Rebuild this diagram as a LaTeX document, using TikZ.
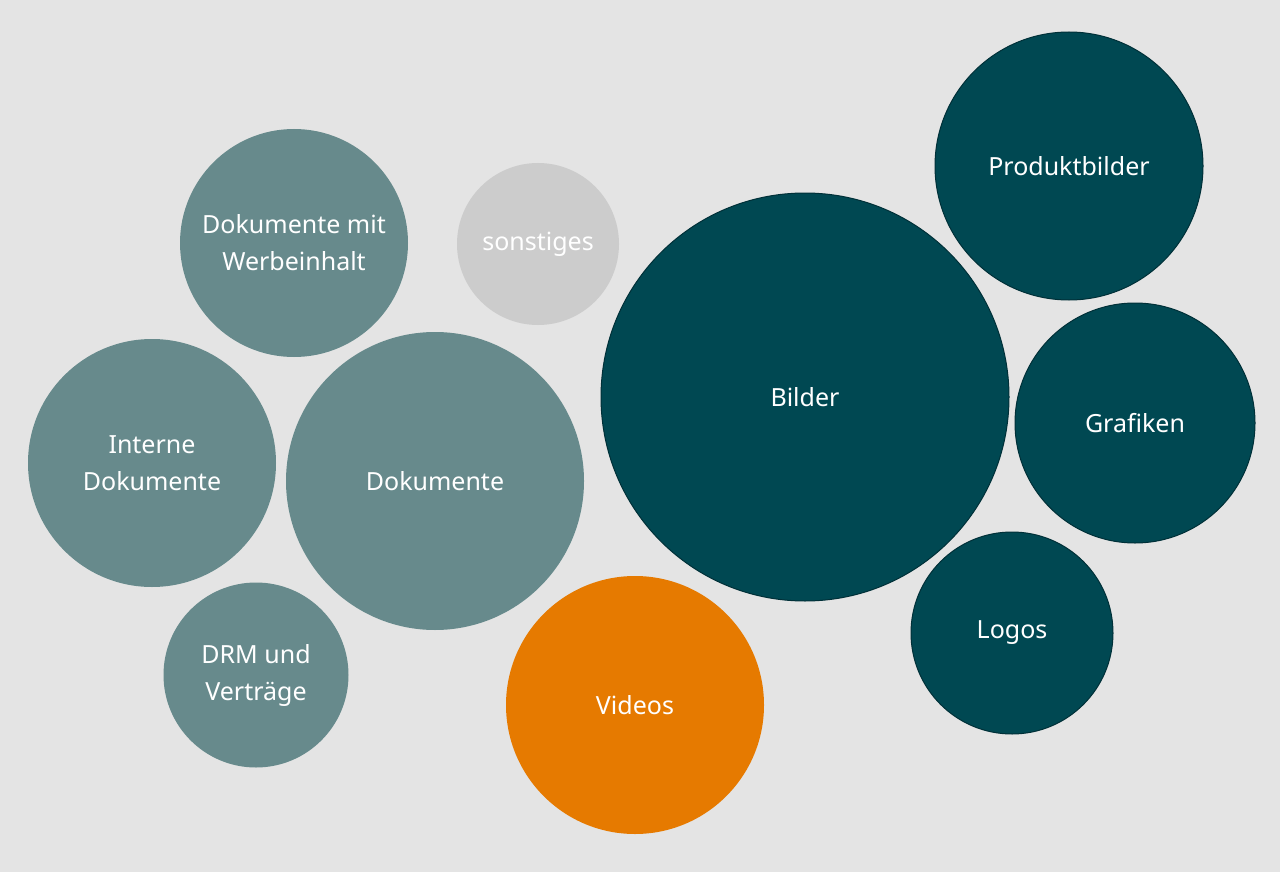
\documentclass[tikz,border=0pt]{standalone}
\usepackage{fontspec}
\setmainfont{Noto Sans}
\definecolor{bg}{HTML}{E4E4E4}
\definecolor{greyteal}{HTML}{678A8C}
\definecolor{darkteal}{HTML}{004852}
\definecolor{darkedge}{HTML}{003038}
\definecolor{lightgrey}{HTML}{CCCCCC}
\definecolor{vorange}{HTML}{E67A00}
\begin{document}
\begin{tikzpicture}[x=1pt,y=-1pt,
  bubble/.style={circle,inner sep=0pt,text=white,align=center,
    font=\fontsize{25}{37}\selectfont},
  doc/.style={bubble,fill=greyteal},
  img/.style={bubble,fill=darkteal,draw=darkedge,line width=1pt},
  misc/.style={bubble,fill=lightgrey},
  vid/.style={bubble,fill=vorange}]
\fill[bg] (0,0) rectangle (1280,872);
\useasboundingbox (0,0) rectangle (1280,872);
\node[doc,minimum size=228pt] (werbung) at (294,243) {Dokumente mit\\Werbeinhalt};
\node[misc,minimum size=162pt] (sonst) at (538,244) {sonstiges};
\node[img,minimum size=268pt] (produkt) at (1069,166) {Produktbilder};
\node[img,minimum size=408pt] (bilder) at (805,397) {Bilder};
\node[doc,minimum size=248pt] (intern) at (152,463) {Interne\\Dokumente};
\node[doc,minimum size=298pt] (dok) at (435,481) {Dokumente};
\node[img,minimum size=240pt] (grafik) at (1135,423) {Grafiken};
\node[img,minimum size=202pt] (logos) at (1012,633) {Logos};
\node[doc,minimum size=185pt] (drm) at (256,675) {DRM und\\Verträge};
\node[vid,minimum size=258pt] (videos) at (635,705) {Videos};
\end{tikzpicture}
\end{document}
